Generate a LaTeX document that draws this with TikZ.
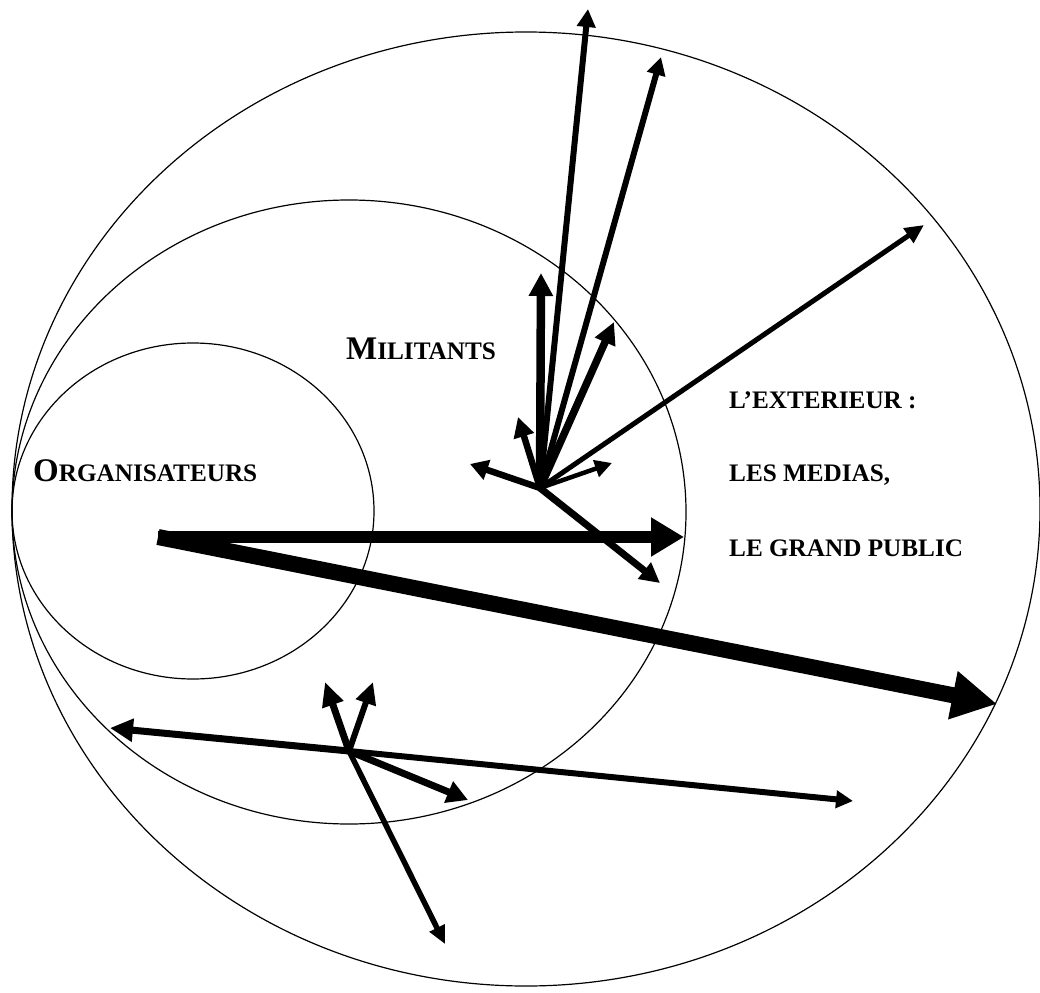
\documentclass[tikz,border=0pt]{standalone}
\usepackage{fontspec}
\setmainfont{Liberation Serif}
\usetikzlibrary{arrows.meta}
\tikzset{
  ring/.style={draw=black,line width=1.2pt},
  flow/.style n args={3}{draw=black,line width=#1pt,-{Triangle[length=#2pt,width=#3pt]}},
  label/.style={font=\bfseries,text=black,inner sep=0pt,anchor=base west},
}
\newcommand{\capbig}[1]{{\fontsize{33}{36}\selectfont #1}}
\newcommand{\capsmall}[1]{{\fontsize{25.2}{28}\selectfont #1}}

\begin{document}
\begin{tikzpicture}[x=1pt,y=-1pt]
\useasboundingbox (0,0) rectangle (1040,992);

% Circles
\draw[ring] (526,509) ellipse [x radius=514, y radius=477];
\draw[ring] (349,512) ellipse [x radius=337, y radius=312];
\draw[ring] (193,511) ellipse [x radius=181, y radius=168];

% Labels
\node[label] (orga) at (33,481) {\capbig{O}\capsmall{RGANISATEURS}};
\node[label] (mili) at (346,359) {\capbig{M}\capsmall{ILITANTS}};
\node[label] (ext) at (729,408) {\capsmall{L'EXTERIEUR :}};
\node[label] (medias) at (729,481) {\capsmall{LES MEDIAS,}};
\node[label] (public) at (729,556) {\capsmall{LE GRAND PUBLIC}};

% Hubs
\coordinate (src) at (158,537);
\coordinate (hubmil) at (540,488);
\coordinate (hubbas) at (349,751);

% Organisers outwards
\coordinate (srcmil) at (684,537);
\coordinate (srcext) at (997,704);
\draw[flow={12.5}{33}{37}] (src) -- (srcmil);
\draw[flow={16}{45}{46}] (src) -- (srcext);

% Militants hub
\foreach \n/\x/\y/\lw/\hl/\hw in {
  m1/541/273/8.5/23/23, m2/588/9/6/18/18, m3/661/57/6/18/18,
  m4/924/225/5/19/17, m5/614/322/7.5/22/21, m6/518/417/6.5/20/20,
  m7/470/464/6.5/18/20, m8/612/463/4.5/17/17, m9/660/583/7/20/20} {
  \coordinate (\n) at (\x,\y);
  \draw[flow={\lw}{\hl}{\hw}] (hubmil) -- (\n);
}

% Lower hub
\foreach \n/\x/\y/\lw/\hl/\hw in {
  b1/110/728/7/23/22, b2/853/801/6/17/17, b3/325/682/7/24/21,
  b4/373/682/6/22/20, b5/468/800/7/21/22, b6/445/944/5.5/18/16} {
  \coordinate (\n) at (\x,\y);
  \draw[flow={\lw}{\hl}{\hw}] (hubbas) -- (\n);
}

\end{tikzpicture}
\end{document}
